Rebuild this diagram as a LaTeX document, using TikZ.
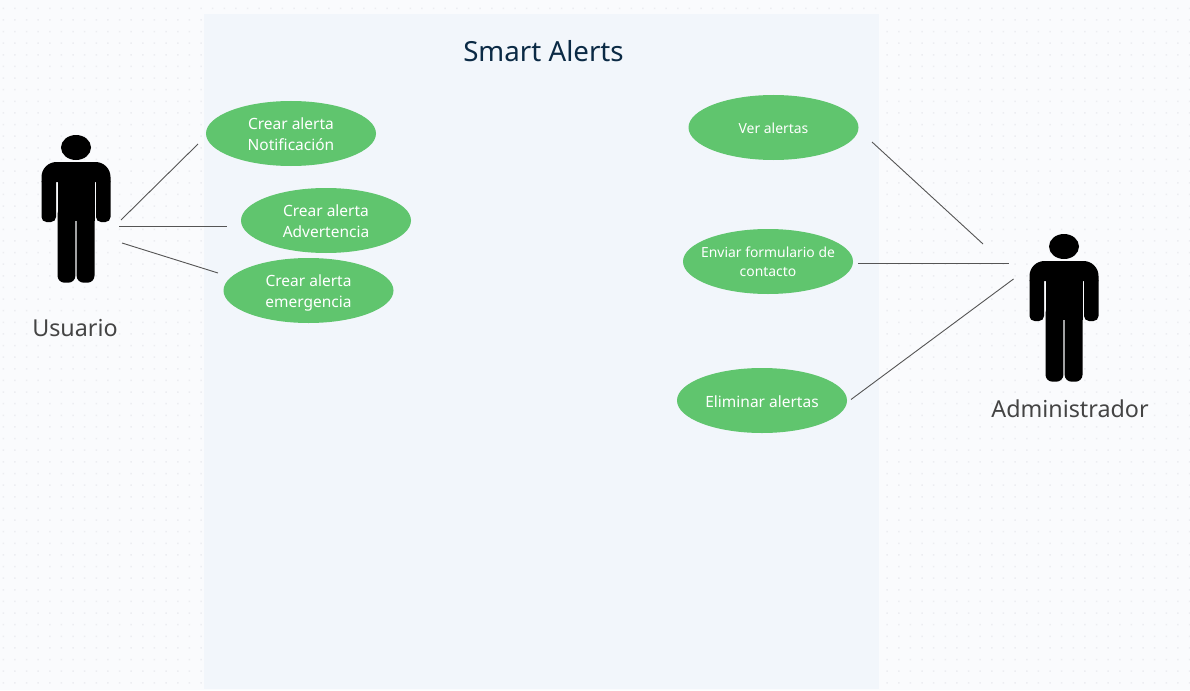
\documentclass[tikz,border=0pt]{standalone}
\usepackage{fontspec}
\setmainfont{Noto Sans}
\definecolor{canvasbg}{HTML}{FAFBFD}
\definecolor{griddot}{HTML}{ECEDF1}
\definecolor{panelblue}{HTML}{F2F6FB}
\definecolor{casegreen}{HTML}{60C56E}
\definecolor{titlenavy}{HTML}{0B2A45}
\definecolor{labelgray}{HTML}{444444}
\definecolor{linegray}{HTML}{555555}
\usetikzlibrary{shapes.geometric}
\tikzset{
  usecase/.style={ellipse, fill=casegreen, text=white, minimum width=170pt, minimum height=65pt, inner xsep=-30pt, inner ysep=-12pt, align=center, font=\fontsize{15.5}{21}\selectfont, execute at end node=\vphantom{g}},
  smallcase/.style={usecase, font=\fontsize{13.9}{19.5}\selectfont},
  raisetext/.style={execute at begin node=\rule{0pt}{#1}},
  actorlabel/.style={text=labelgray, font=\fontsize{23.3}{28}\selectfont},
  assoc/.style={draw=linegray, line width=0.9pt},
  actor/.pic={
    \fill (0,-14.5) ellipse [x radius=15pt, y radius=12.5pt];
    \fill[rounded corners=15pt] (-34.5,20) -- (-34.5,0) -- (34.5,0) -- (34.5,20);
    \fill[rounded corners=5pt] (-34.5,15) -- (-34.5,60) -- (-20,60) -- (-20,15) -- cycle;
    \fill[rounded corners=5pt] (34.5,15) -- (34.5,60) -- (20,60) -- (20,15) -- cycle;
    \fill (-18.5,10) rectangle (18.5,59);
    \fill[rounded corners=7pt] (-18.5,45) -- (-18.5,120.7) -- (-0.6,120.7) -- (-0.6,45) -- cycle;
    \fill[rounded corners=7pt] (18.5,45) -- (18.5,120.7) -- (0.6,120.7) -- (0.6,45) -- cycle;
  }
}

\begin{document}
\begin{tikzpicture}[x=1pt, y=-1pt]
  \useasboundingbox (0,0) rectangle (1190,690);
  % Canvas and dot grid
  \fill[canvasbg] (0,0) rectangle (1190,690);
  \fill[griddot] \foreach \i in {0,...,102} { \foreach \j in {0,...,59} {
    (3.3+11.63*\i-0.75, 8.3+11.63*\j-0.75) rectangle ++(1.5,1.5) } };

  % System boundary
  \fill[panelblue] (203.5,14) rectangle (878.5,689);
  \node[text=titlenavy, font=\fontsize{27.7}{32}\selectfont] (title) at (543.5,51) {Smart Alerts};

  % Actors
  \pic at (76,162) {actor};
  \pic at (1064,261) {actor};
  \node[actorlabel] (usuario) at (75,328) {Usuario};
  \node[actorlabel] (admin) at (1070,409) {Administrador};

  % Use cases, left side
  \node[usecase, raisetext=38.4pt] (crearNotif) at (291,133.5) {Crear alerta\\Notificación};
  \node[usecase, raisetext=38.4pt] (crearAdv) at (326,220.5) {Crear alerta\\Advertencia};
  \node[usecase, raisetext=38.4pt] (crearEmer) at (308.5,290.5) {Crear alerta\\emergencia};

  % Use cases, right side
  \node[smallcase, raisetext=15pt] (verAlertas) at (773.5,127.5) {Ver alertas};
  \node[smallcase, raisetext=33.8pt] (enviarForm) at (768,261.5) {Enviar formulario de\\contacto};
  \node[usecase, raisetext=17pt] (eliminar) at (762,400.5) {Eliminar alertas};

  % Connector ends (the lines stop short of the shapes)
  \coordinate (usuarioA) at (121,220);
  \coordinate (usuarioB) at (119,226.5);
  \coordinate (usuarioC) at (122,243);
  \coordinate (notifEnd) at (198,144);
  \coordinate (advEnd) at (227,226.5);
  \coordinate (emerEnd) at (218,273);
  \coordinate (adminA) at (983,244);
  \coordinate (adminB) at (1009,263);
  \coordinate (adminC) at (1013.5,279);
  \coordinate (verEnd) at (872,142);
  \coordinate (enviarEnd) at (858,263);
  \coordinate (eliminarEnd) at (851,399.5);

  \draw[assoc] (usuarioA) -- (notifEnd);
  \draw[assoc] (usuarioB) -- (advEnd);
  \draw[assoc] (usuarioC) -- (emerEnd);
  \draw[assoc] (verEnd) -- (adminA);
  \draw[assoc] (enviarEnd) -- (adminB);
  \draw[assoc] (eliminarEnd) -- (adminC);
\end{tikzpicture}
\end{document}
